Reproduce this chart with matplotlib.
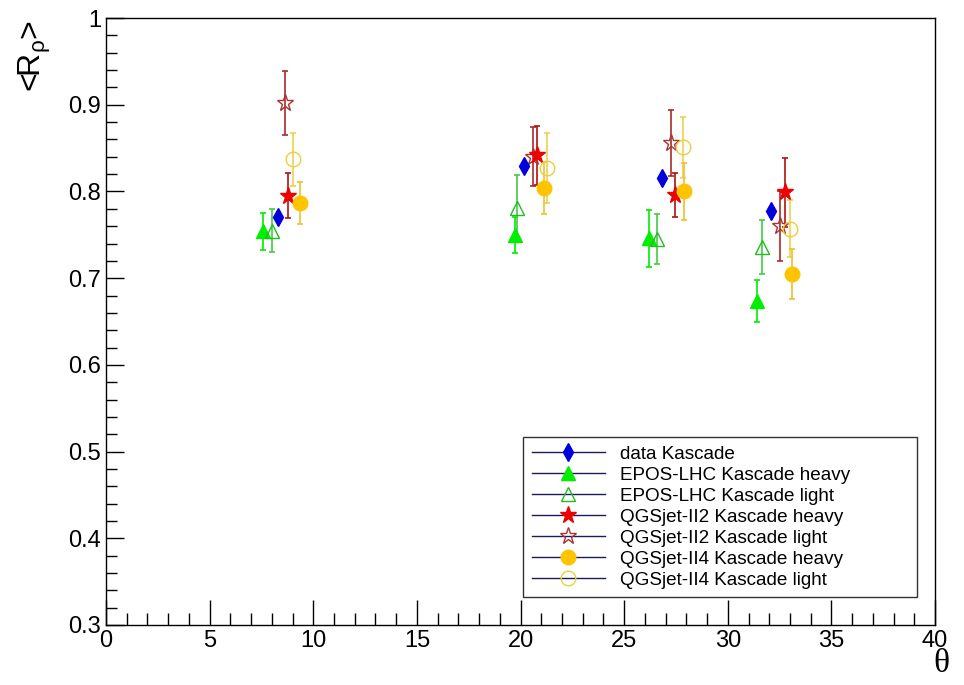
import matplotlib
matplotlib.use("Agg")
import matplotlib.pyplot as plt
from matplotlib.lines import Line2D
from matplotlib.ticker import MultipleLocator

plt.rcParams['font.family'] = ['Liberation Sans', 'DejaVu Sans']

# zenith angle bins, one group of points per bin
theta_data = [8.30, 20.17, 26.83, 32.09]
r_data = [0.770, 0.829, 0.815, 0.777]
err_data = [0.0, 0.0, 0.0, 0.0]

theta_epos_heavy = [7.58, 19.73, 26.20, 31.41]
r_epos_heavy = [0.754, 0.750, 0.746, 0.674]
err_epos_heavy = [0.021, 0.021, 0.033, 0.024]

theta_epos_light = [8.01, 19.83, 26.60, 31.65]
r_epos_light = [0.755, 0.781, 0.745, 0.736]
err_epos_light = [0.025, 0.038, 0.029, 0.031]

theta_qgs2_heavy = [8.78, 20.80, 27.45, 32.76]
r_qgs2_heavy = [0.795, 0.842, 0.796, 0.799]
err_qgs2_heavy = [0.026, 0.034, 0.025, 0.040]

theta_qgs2_light = [8.64, 20.62, 27.27, 32.52]
r_qgs2_light = [0.902, 0.840, 0.856, 0.760]
err_qgs2_light = [0.037, 0.034, 0.038, 0.040]

theta_qgs4_heavy = [9.36, 21.13, 27.89, 33.10]
r_qgs4_heavy = [0.787, 0.804, 0.800, 0.705]
err_qgs4_heavy = [0.024, 0.030, 0.033, 0.029]

theta_qgs4_light = [9.02, 21.28, 27.84, 33.00]
r_qgs4_light = [0.837, 0.827, 0.851, 0.757]
err_qgs4_light = [0.031, 0.040, 0.035, 0.033]

labels = ["data Kascade",
          "EPOS-LHC Kascade heavy",
          "EPOS-LHC Kascade light",
          "QGSjet-II2 Kascade heavy",
          "QGSjet-II2 Kascade light",
          "QGSjet-II4 Kascade heavy",
          "QGSjet-II4 Kascade light"]

green = '#00ee00'
orange = '#ffc400'

# marker styles: (marker, size, face, edge)
sty_data = ('d', 9, '#0000dd', '#0000dd')
sty_epos_heavy = ('^', 10, green, green)
sty_epos_light = ('^', 10, 'none', '#22bb22')
sty_qgs2_heavy = ('*', 12.5, '#ee0000', '#ee0000')
sty_qgs2_light = ('*', 12.5, 'none', '#aa3333')
sty_qgs4_heavy = ('o', 10.5, orange, orange)
sty_qgs4_light = ('o', 10.5, 'none', '#e8d040')

# drawing order: (x, y, err, style, errcolor)
series = [
    (theta_epos_heavy, r_epos_heavy, err_epos_heavy, sty_epos_heavy, green),
    (theta_epos_light, r_epos_light, err_epos_light, sty_epos_light, '#44cc44'),
    (theta_qgs2_light, r_qgs2_light, err_qgs2_light, sty_qgs2_light, '#aa2a2a'),
    (theta_qgs2_heavy, r_qgs2_heavy, err_qgs2_heavy, sty_qgs2_heavy, '#b01010'),
    (theta_qgs4_light, r_qgs4_light, err_qgs4_light, sty_qgs4_light, '#f0d050'),
    (theta_qgs4_heavy, r_qgs4_heavy, err_qgs4_heavy, sty_qgs4_heavy, '#f0c030'),
    (theta_data, r_data, err_data, sty_data, '#0000dd'),
]

fig = plt.figure(figsize=(9.64, 6.85), dpi=100)
ax = fig.add_axes([0.110, 0.0876, 0.860, 0.886])

for x, y, e, (m, ms, fc, ec), erc in series:
    ax.errorbar(x, y, yerr=e, fmt='none', ecolor=erc, elinewidth=1.2,
                capsize=2.5, capthick=1.2, zorder=2)
    ax.plot(x, y, linestyle='none', marker=m, markersize=ms,
            markerfacecolor=fc, markeredgecolor=ec, markeredgewidth=1.0,
            zorder=3)

ax.set_xlim(0, 40)
ax.set_ylim(0.3, 1.0)
ax.xaxis.set_major_locator(MultipleLocator(5))
ax.xaxis.set_minor_locator(MultipleLocator(1))
ax.yaxis.set_minor_locator(MultipleLocator(0.02))
ax.set_yticks([0.3, 0.4, 0.5, 0.6, 0.7, 0.8, 0.9, 1.0])
ax.set_yticklabels(['0.3', '0.4', '0.5', '0.6', '0.7', '0.8', '0.9', '1'])
ax.tick_params(which='both', direction='in', top=False, right=False,
               labelsize=17, width=1.0)
ax.tick_params(axis='x', which='major', length=18)
ax.tick_params(axis='y', which='major', length=13)
ax.tick_params(axis='x', which='minor', length=9)
ax.tick_params(axis='y', which='minor', length=8)
for s in ax.spines.values():
    s.set_linewidth(1.0)

fig.text(0.036, 1 - 56 / 685, r'<R$_\mathregular{ρ}$>', rotation=90,
         fontsize=23, ha='center', va='center')
fig.text(941 / 964, 1 - 664 / 685, 'θ', fontsize=24,
         family=['Liberation Serif', 'DejaVu Serif'], ha='center', va='center')

# legend entries: marker drawn on a dark horizontal line
navy = '#1c1c5a'
legend_style = [sty_data, sty_epos_heavy, sty_epos_light, sty_qgs2_heavy,
                sty_qgs2_light, sty_qgs4_heavy, sty_qgs4_light]
handles = [Line2D([0], [0], color=navy, linewidth=1.0, marker=m, markersize=ms,
                  markerfacecolor=fc, markeredgecolor=ec)
           for m, ms, fc, ec in legend_style]
leg = ax.legend(handles, labels, loc='lower left',
                bbox_to_anchor=(0.503, 0.046, 0.475, 0.264), mode='expand',
                fontsize=13.6, frameon=True, fancybox=False, borderaxespad=0,
                handlelength=3.9, handletextpad=0.8, labelspacing=0.2,
                borderpad=0.45)
leg.get_frame().set_edgecolor('black')
leg.get_frame().set_linewidth(1.0)

fig.savefig('out.png', dpi=100)
